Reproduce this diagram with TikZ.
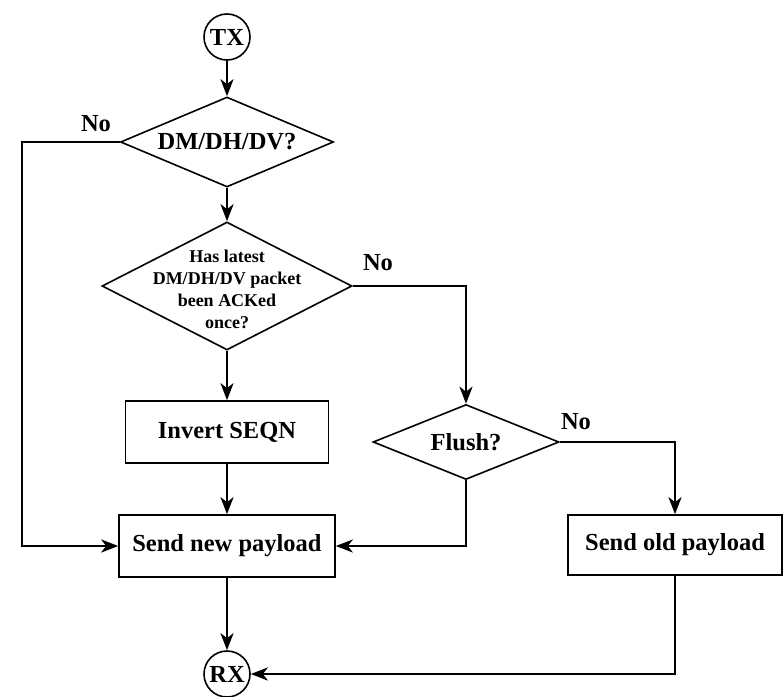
\documentclass[tikz,border=0pt]{standalone}
\usepackage{fontspec}
\setmainfont{Liberation Serif}
\usetikzlibrary{shapes.geometric,arrows.meta}
\begin{document}
\begin{tikzpicture}[x=1pt,y=-1pt,
  bigfont/.style={font=\bfseries\fontsize{24.5}{28}\selectfont},
  base/.style={draw=black,line width=1.6pt,inner sep=0pt,bigfont},
  term/.style={base,circle,minimum size=46pt},
  decision/.style={base,diamond,aspect=1},
  procbox/.style={base,rectangle,minimum height=62pt},
  txt/.style={inner sep=0pt,align=center},
  conn/.style={line width=2.8pt,-{Stealth[length=17pt,width=13pt,inset=5pt]}},
  nolabel/.style={bigfont,inner sep=0pt}]
\useasboundingbox (0,0) rectangle (783,696);
\node[term] (tx) at (227,37) {TX};
\node[decision,minimum width=213pt,minimum height=90pt] (d1) at (227,142) {};
\node[txt,bigfont] (d1t) at (d1) {DM/DH/DV?};
\node[decision,minimum width=250pt,minimum height=128pt] (d2) at (227,286) {};
\node[txt,font=\bfseries\fontsize{18}{22}\selectfont] (d2t) at (227,289)
      {Has latest\\DM/DH/DV packet\\been ACKed\\once?};
\node[procbox,minimum width=203pt] (inv) at (227,432) {Invert SEQN};
\node[procbox,minimum width=216pt] (snp) at (227,546) {Send new payload};
\node[decision,minimum width=186pt,minimum height=75pt] (fl) at (466,442) {};
\node[txt,bigfont] (flt) at (fl) {Flush?};
\node[procbox,minimum width=214pt,minimum height=60pt] (sop) at (675,545) {Send old payload};
\node[term] (rx) at (227,674) {RX};
\node[nolabel] (no1) at (96,124) {No};
\node[nolabel] (no2) at (378,263) {No};
\node[nolabel] (no3) at (576,422) {No};
\coordinate (lft) at (22,142);
\draw[conn] (tx) -- (d1.north);
\draw[conn] (d1.south) -- (d2.north);
\draw[conn] (d2.south) -- (inv.north);
\draw[conn] (inv.south) -- (snp.north);
\draw[conn] (snp.south) -- (rx.north);
\draw[conn] (d1.west) -- (lft) |- (snp.west);
\draw[conn] (d2.east) -| (fl.north);
\draw[conn] (fl.east) -| (sop.north);
\draw[conn] (fl.south) |- (snp.east);
\draw[conn] (sop.south) |- (rx.east);
\end{tikzpicture}
\end{document}
